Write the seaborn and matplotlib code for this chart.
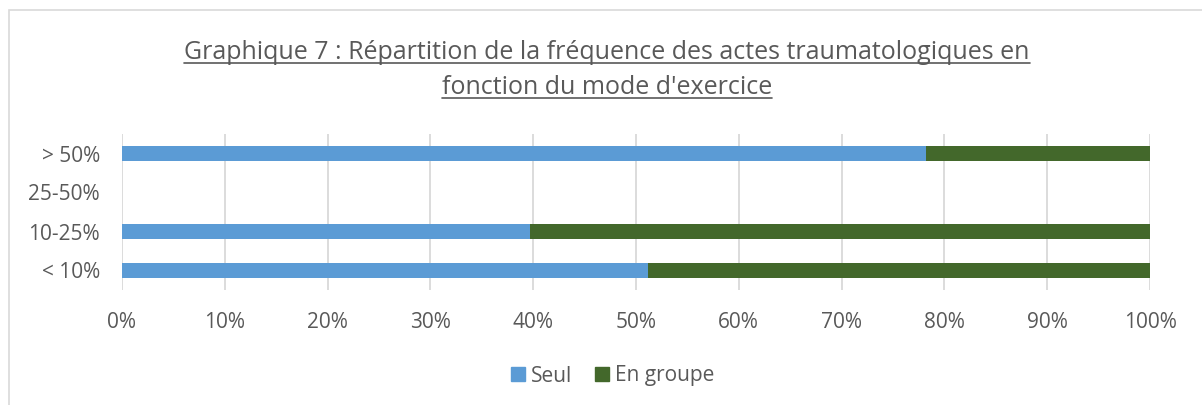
import matplotlib
matplotlib.use('Agg')
import matplotlib.pyplot as plt
from matplotlib.patches import Patch, Rectangle
from matplotlib.lines import Line2D
import matplotlib.ticker as mticker
import numpy as np
import pandas as pd
import seaborn as sns

# data (percent of each frequency class)
categories = ['> 50%', '25-50%', '10-25%', '< 10%']
seul = [78.2, 0.0, 39.7, 51.2]
en_groupe = [21.8, 0.0, 60.3, 48.8]
xticks = [0, 10, 20, 30, 40, 50, 60, 70, 80, 90, 100]

BLUE = '#5B9BD5'
GREEN = '#43682B'
GREY_TXT = '#595959'

sns.set_style('white')
plt.rcParams['font.family'] = ['Open Sans', 'DejaVu Sans']

df = pd.DataFrame({'cat': categories, 'seul': seul, 'groupe': en_groupe})
df['total'] = df.seul + df.groupe

fig = plt.figure(figsize=(12.02, 4.05), dpi=100)
ax = fig.add_axes([122/1202, 1-290/405, (1150-122)/1202, (290-134)/405])

# stacked: total first (green), then "Seul" over it (blue)
sns.barplot(data=df, x='total', y='cat', order=categories, color=GREEN,
            orient='h', width=0.41, saturation=1, linewidth=0, ax=ax)
sns.barplot(data=df, x='seul', y='cat', order=categories, color=BLUE,
            orient='h', width=0.41, saturation=1, linewidth=0, ax=ax)

ax.set_xlim(0, 100)
ax.set_xticks(xticks)
ax.xaxis.set_major_formatter(mticker.FuncFormatter(lambda v, p: f'{v:.0f}%'))
ax.set_xlabel('')
ax.set_ylabel('')
ax.grid(axis='x', color='#D9D9D9', linewidth=1.3)
ax.set_axisbelow(True)
for s in ax.spines.values():
    s.set_visible(False)
ax.tick_params(axis='both', length=0, labelsize=15, colors=GREY_TXT)
ax.tick_params(axis='x', pad=16)
ax.tick_params(axis='y', pad=16)

fig.legend(handles=[Patch(color=BLUE, label='Seul'), Patch(color=GREEN, label='En groupe')],
           loc='center', bbox_to_anchor=(0.51, 1-376/405), ncol=2, frameon=False,
           fontsize=15, handlelength=0.65, handleheight=0.65, handletextpad=0.3,
           columnspacing=1.1, labelcolor=GREY_TXT)

# chart frame
fig.add_artist(Rectangle((9/1202, -0.05), 1.1, 1-10/405+0.05, transform=fig.transFigure,
                         fill=False, edgecolor='#D9D9D9', linewidth=1.2))

# underlined two-line title
t1 = fig.text(0.505, 1-59/405, 'Graphique 7 : Répartition de la fréquence des actes traumatologiques en',
              ha='center', va='baseline', fontsize=18, color=GREY_TXT)
t2 = fig.text(0.505, 1-94/405, "fonction du mode d'exercice",
              ha='center', va='baseline', fontsize=18, color=GREY_TXT)
fig.canvas.draw()
r = fig.canvas.get_renderer()
inv = fig.transFigure.inverted()
for t, base in ((t1, 59), (t2, 94)):
    bb = t.get_window_extent(r).transformed(inv)
    y = 1 - (base + 4)/405
    fig.add_artist(Line2D([bb.x0, bb.x1], [y, y], transform=fig.transFigure,
                          color=GREY_TXT, linewidth=1.2))

plt.savefig('out.png', dpi=100)
